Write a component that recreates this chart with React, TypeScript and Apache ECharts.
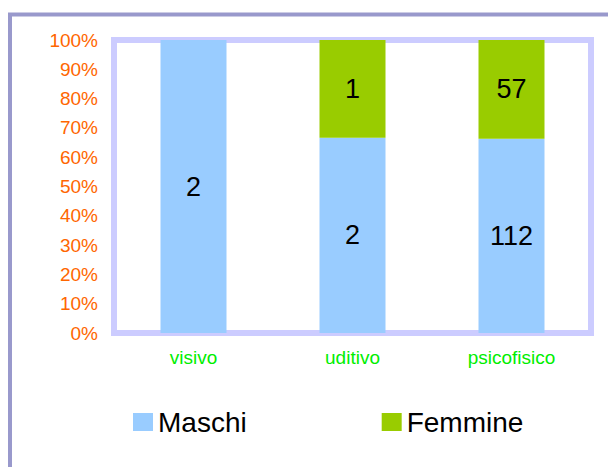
import React, { useEffect, useRef } from "react";
import * as echarts from "echarts";

const categories = ["visivo", "uditivo", "psicofisico"];
const maschi = [2, 2, 112];
const femmine = [0, 1, 57];
const seriesNames = ["Maschi", "Femmine"];

export default function App() {
  const ref = useRef<HTMLDivElement>(null);
  useEffect(() => {
    if (!ref.current) return;
    const chart = echarts.init(ref.current, null, { renderer: "svg" });
    const totals = categories.map((_, i) => maschi[i] + femmine[i]);
    const pct = (arr: number[]) =>
      arr.map((v, i) => ({ value: (v / totals[i]) * 100, raw: v }));
    const labelCfg = {
      show: true,
      position: "inside",
      color: "#000",
      fontSize: 27,
      fontFamily: "Liberation Sans, Arial, sans-serif",
      formatter: (p: any) => (p.data.raw ? String(p.data.raw) : ""),
    };
    chart.setOption({
      animation: false,
      backgroundColor: "#fff",
      graphic: [
        {
          type: "rect",
          shape: { x: 10, y: 14.5, width: 700, height: 600 },
          style: { fill: "none", stroke: "#9999cc", lineWidth: 4 },
          silent: true,
        },
      ],
      grid: {
        left: 114,
        right: 17,
        top: 40,
        bottom: 134,
        show: true,
        borderColor: "#ccccff",
        borderWidth: 6,
        backgroundColor: "transparent",
      },
      legend: {
        left: 128,
        top: 403,
        itemWidth: 20,
        itemHeight: 18,
        itemGap: 135,
        icon: "rect",
        textStyle: {
          fontSize: 28,
          color: "#000",
          fontFamily: "Liberation Sans, Arial, sans-serif",
        },
        data: seriesNames,
      },
      xAxis: {
        type: "category",
        data: categories,
        axisLine: { show: false },
        axisTick: { show: false },
        axisLabel: {
          color: "#00ee00",
          fontSize: 19,
          margin: 15,
          fontFamily: "Liberation Sans, Arial, sans-serif",
        },
      },
      yAxis: {
        type: "value",
        min: 0,
        max: 100,
        interval: 10,
        axisLine: { show: false },
        axisTick: { show: false },
        splitLine: { show: false },
        axisLabel: {
          formatter: "{value}%",
          color: "#ff6600",
          fontSize: 19,
          margin: 16,
          fontFamily: "Liberation Sans, Arial, sans-serif",
        },
      },
      series: [
        {
          name: seriesNames[0],
          type: "bar",
          stack: "total",
          barWidth: 66,
          itemStyle: { color: "#99ccff" },
          label: labelCfg,
          data: pct(maschi),
        },
        {
          name: seriesNames[1],
          type: "bar",
          stack: "total",
          barWidth: 66,
          itemStyle: { color: "#99cc00" },
          label: labelCfg,
          data: pct(femmine),
        },
      ],
    });
    return () => chart.dispose();
  }, []);
  return (
    <div
      ref={ref}
      style={{ position: "fixed", left: 0, top: 0, width: 608, height: 467 }}
    />
  );
}
